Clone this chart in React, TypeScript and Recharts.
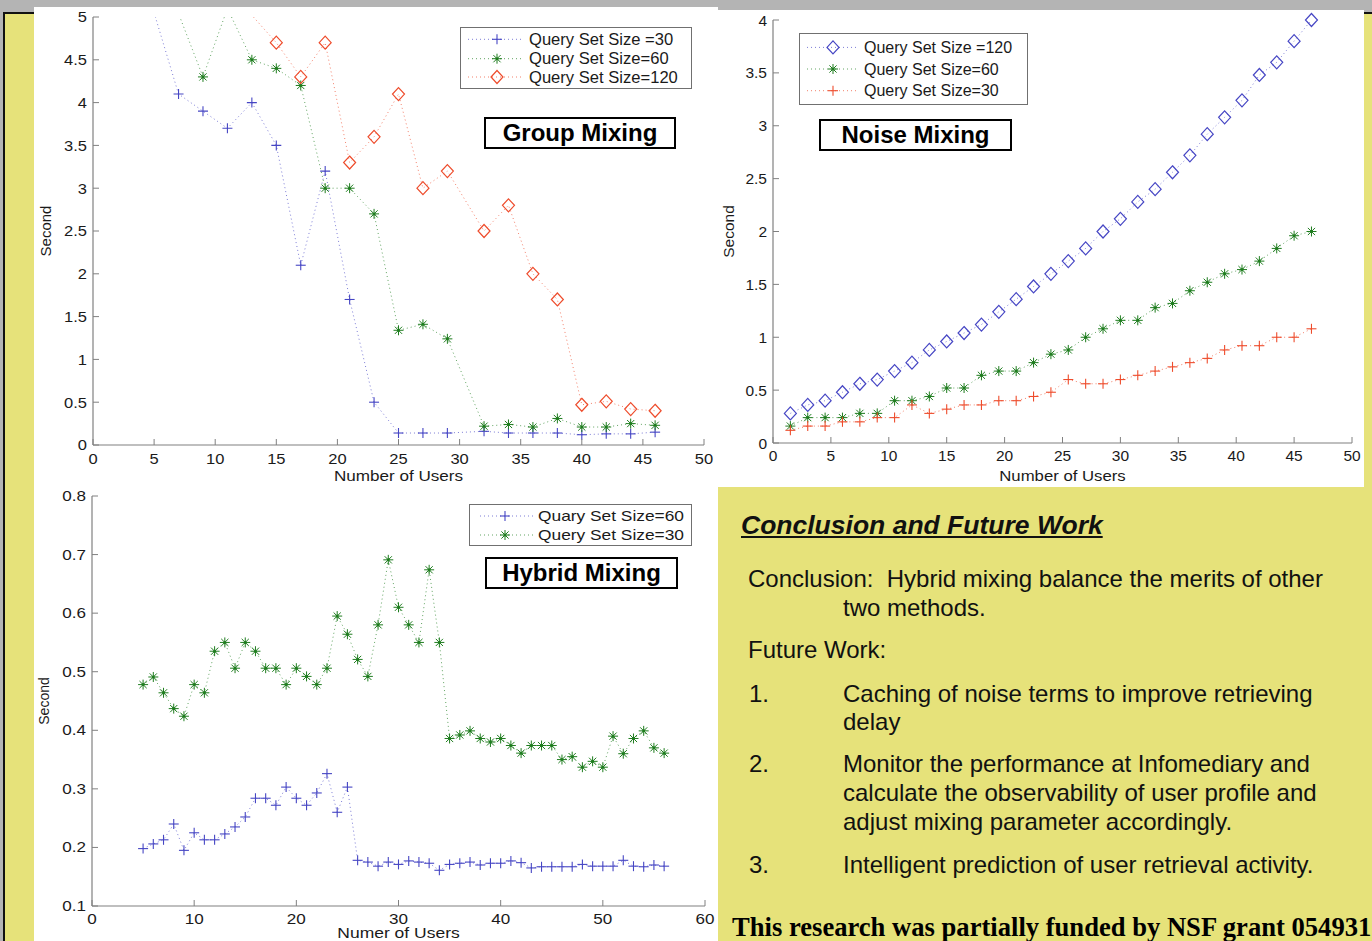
import React from "react";
import { LineChart, Line, XAxis, YAxis, Legend } from "recharts";

const FONT = '"Liberation Sans", Arial, Helvetica, sans-serif';
const SERIF = '"Liberation Serif", "Times New Roman", serif';
const YELLOW = "#e6e27a";
const FRAME = "#808080";
const INK = "#1a1a1a";
const BLUE = "#4646c4";
const GREEN = "#1f7d1f";
const RED = "#ee4c2c";
const TICK_LEN = 6;

// Group Mixing
const groupUsers = [5, 7, 9, 11, 13, 15, 17, 19, 21, 23, 25, 27, 29, 32, 34, 36, 38, 40, 42, 44, 46];
const groupSize30 = [5.05, 4.1, 3.9, 3.7, 4.0, 3.5, 2.1, 3.2, 1.7, 0.5, 0.14, 0.14, 0.14, 0.16, 0.14, 0.14, 0.14, 0.12, 0.13, 0.13, 0.15];
const groupSize60 = [5.6, 5.04, 4.3, 5.1, 4.5, 4.4, 4.2, 3.0, 3.0, 2.7, 1.34, 1.41, 1.24, 0.22, 0.24, 0.21, 0.31, 0.21, 0.21, 0.25, 0.23];
const groupSize120 = [6.4, 6.0, 5.6, 5.3, 5.02, 4.7, 4.3, 4.7, 3.3, 3.6, 4.1, 3.0, 3.2, 2.5, 2.8, 2.0, 1.7, 0.47, 0.51, 0.42, 0.4];
const groupXTicks = [0, 5, 10, 15, 20, 25, 30, 35, 40, 45, 50];
const groupYTicks = [0, 0.5, 1, 1.5, 2, 2.5, 3, 3.5, 4, 4.5, 5];

// Noise Mixing
const noiseUsers = [1.5, 3, 4.5, 6, 7.5, 9, 10.5, 12, 13.5, 15, 16.5, 18, 19.5, 21, 22.5, 24, 25.5, 27, 28.5, 30, 31.5, 33, 34.5, 36, 37.5, 39, 40.5, 42, 43.5, 45, 46.5];
const noiseSize120 = [0.28, 0.36, 0.4, 0.48, 0.56, 0.6, 0.68, 0.76, 0.88, 0.96, 1.04, 1.12, 1.24, 1.36, 1.48, 1.6, 1.72, 1.84, 2.0, 2.12, 2.28, 2.4, 2.56, 2.72, 2.92, 3.08, 3.24, 3.48, 3.6, 3.8, 4.0];
const noiseSize60 = [0.16, 0.24, 0.24, 0.24, 0.28, 0.28, 0.4, 0.4, 0.44, 0.52, 0.52, 0.64, 0.68, 0.68, 0.76, 0.84, 0.88, 1.0, 1.08, 1.16, 1.16, 1.28, 1.32, 1.44, 1.52, 1.6, 1.64, 1.72, 1.84, 1.96, 2.0];
const noiseSize30 = [0.12, 0.16, 0.16, 0.2, 0.2, 0.24, 0.24, 0.36, 0.28, 0.32, 0.36, 0.36, 0.4, 0.4, 0.44, 0.48, 0.6, 0.56, 0.56, 0.6, 0.64, 0.68, 0.72, 0.76, 0.8, 0.88, 0.92, 0.92, 1.0, 1.0, 1.08];
const noiseXTicks = [0, 5, 10, 15, 20, 25, 30, 35, 40, 45, 50];
const noiseYTicks = [0, 0.5, 1, 1.5, 2, 2.5, 3, 3.5, 4];

// Hybrid Mixing
const hybridUsers = [5, 6, 7, 8, 9, 10, 11, 12, 13, 14, 15, 16, 17, 18, 19, 20, 21, 22, 23, 24, 25, 26, 27, 28, 29, 30, 31, 32, 33, 34, 35, 36, 37, 38, 39, 40, 41, 42, 43, 44, 45, 46, 47, 48, 49, 50, 51, 52, 53, 54, 55, 56];
const hybridSize60 = [0.198, 0.206, 0.213, 0.24, 0.195, 0.225, 0.213, 0.213, 0.223, 0.235, 0.252, 0.284, 0.284, 0.272, 0.303, 0.284, 0.272, 0.293, 0.326, 0.26, 0.303, 0.178, 0.175, 0.168, 0.175, 0.171, 0.177, 0.175, 0.173, 0.161, 0.171, 0.173, 0.175, 0.17, 0.173, 0.173, 0.177, 0.174, 0.165, 0.167, 0.167, 0.167, 0.167, 0.171, 0.168, 0.168, 0.168, 0.178, 0.168, 0.167, 0.17, 0.168];
const hybridSize30 = [0.478, 0.491, 0.464, 0.437, 0.424, 0.478, 0.464, 0.535, 0.55, 0.506, 0.55, 0.535, 0.506, 0.506, 0.478, 0.506, 0.492, 0.478, 0.506, 0.595, 0.564, 0.521, 0.492, 0.58, 0.691, 0.61, 0.58, 0.55, 0.674, 0.55, 0.386, 0.392, 0.399, 0.386, 0.38, 0.386, 0.374, 0.361, 0.374, 0.374, 0.374, 0.35, 0.355, 0.337, 0.347, 0.337, 0.39, 0.36, 0.386, 0.399, 0.37, 0.361];
const hybridXTicks = [0, 10, 20, 30, 40, 50, 60];
const hybridYTicks = [0.1, 0.2, 0.3, 0.4, 0.5, 0.6, 0.7, 0.8];

type MarkerKind = "plus" | "star" | "diamond";
type Series = { key: string; name: string; kind: MarkerKind; color: string };

function Marker({ kind, cx, cy, color }: { kind: MarkerKind; cx: number; cy: number; color: string }) {
  if (kind === "plus") {
    return (
      <g stroke={color} strokeWidth={1.1} fill="none">
        <line x1={cx - 5} y1={cy} x2={cx + 5} y2={cy} />
        <line x1={cx} y1={cy - 5} x2={cx} y2={cy + 5} />
      </g>
    );
  }
  if (kind === "star") {
    const d = 3.6;
    return (
      <g stroke={color} strokeWidth={1} fill="none">
        <line x1={cx - 5} y1={cy} x2={cx + 5} y2={cy} />
        <line x1={cx} y1={cy - 5} x2={cx} y2={cy + 5} />
        <line x1={cx - d} y1={cy - d} x2={cx + d} y2={cy + d} />
        <line x1={cx - d} y1={cy + d} x2={cx + d} y2={cy - d} />
        <circle cx={cx} cy={cy} r={1.5} fill={color} stroke="none" />
      </g>
    );
  }
  return (
    <polygon
      points={`${cx},${cy - 6.5} ${cx + 6},${cy} ${cx},${cy + 6.5} ${cx - 6},${cy}`}
      fill="none"
      stroke={color}
      strokeWidth={1.2}
    />
  );
}

// markers above the axis limit are not drawn, like matlab does
const dotRenderer = (kind: MarkerKind, color: string, yMax?: number) => (props: any) => {
  const { cx, cy, value, index } = props;
  if (cx == null || cy == null || (yMax !== undefined && value > yMax)) return <g key={`d${index}`} />;
  return <Marker key={`d${index}`} kind={kind} cx={cx} cy={cy} color={color} />;
};

function StretchText({ x, y, sx, size, anchor, dy, children }: any) {
  return (
    <text
      transform={`translate(${x},${y}) scale(${sx},1)`}
      textAnchor={anchor}
      dy={dy}
      fontSize={size}
      fontFamily={FONT}
      fill={INK}
    >
      {children}
    </text>
  );
}

type LegendCfg = {
  left: number; top: number; width: number; height: number;
  rows: number[]; markerX: number; lineX1: number; lineX2: number; textX: number;
  fontSize: number; sx: number;
};

function LegendBox({ cfg, series }: { cfg: LegendCfg; series: Series[] }) {
  return (
    <div style={{ position: "relative", width: cfg.width, height: cfg.height, border: "1.5px solid #707070", background: "#fff", boxSizing: "border-box" }}>
      <svg width={cfg.width} height={cfg.height} style={{ position: "absolute", left: -1.5, top: -1.5 }}>
        {series.map((s, i) => (
          <g key={s.key}>
            <line x1={cfg.lineX1} x2={cfg.lineX2} y1={cfg.rows[i]} y2={cfg.rows[i]} stroke={s.color} strokeWidth={1} strokeDasharray="1 3" strokeOpacity={0.7} />
            <Marker kind={s.kind} cx={cfg.markerX} cy={cfg.rows[i]} color={s.color} />
            <StretchText x={cfg.textX} y={cfg.rows[i]} sx={cfg.sx} size={cfg.fontSize} anchor="start" dy="0.36em">
              {s.name}
            </StretchText>
          </g>
        ))}
      </svg>
    </div>
  );
}

type PlotProps = {
  left: number; top: number; width: number; height: number;
  yAxisWidth: number; xAxisHeight: number; marginTop: number; marginRight: number;
  data: any[]; series: Series[];
  xDomain: [number, number]; yDomain: [number, number]; xTicks: number[]; yTicks: number[];
  clipY?: boolean;
  fontSize: number; sx: number; labelSx: number; xTickGap: number; yTickGap: number;
  xLabel: string; xLabelDy: number; yLabel: string; yLabelDx: number;
  legend: LegendCfg;
};

function MatlabPlot(p: PlotProps) {
  const yMax = p.clipY ? p.yDomain[1] : undefined;

  const bottomTick = (t: any) => (
    <g>
      <line x1={t.x} x2={t.x} y1={t.y - p.xTickGap} y2={t.y - p.xTickGap - TICK_LEN} stroke={FRAME} />
      <StretchText x={t.x} y={t.y} sx={p.sx} size={p.fontSize} anchor="middle" dy="0.71em">
        {String(t.payload.value)}
      </StretchText>
    </g>
  );
  const topTick = (t: any) => <line x1={t.x} x2={t.x} y1={t.y} y2={t.y + TICK_LEN} stroke={FRAME} />;
  const leftTick = (t: any) => (
    <g>
      <line x1={t.x + p.yTickGap} x2={t.x + p.yTickGap + TICK_LEN} y1={t.y} y2={t.y} stroke={FRAME} />
      <StretchText x={t.x} y={t.y} sx={p.sx} size={p.fontSize} anchor="end" dy="0.36em">
        {String(t.payload.value)}
      </StretchText>
    </g>
  );
  const rightTick = (t: any) => <line x1={t.x - TICK_LEN} x2={t.x} y1={t.y} y2={t.y} stroke={FRAME} />;

  const xLabel = (lp: any) => {
    const vb = lp.viewBox ?? { x: 0, y: 0, width: 0, height: 0 };
    return (
      <StretchText x={vb.x + vb.width / 2} y={vb.y + p.xLabelDy} sx={p.labelSx} size={p.fontSize} anchor="middle" dy="0.36em">
        {p.xLabel}
      </StretchText>
    );
  };
  const yLabel = (lp: any) => {
    const vb = lp.viewBox ?? { x: 0, y: 0, width: 0, height: 0 };
    const cx = vb.x + p.yLabelDx;
    const cy = vb.y + vb.height / 2;
    return (
      <text transform={`translate(${cx},${cy}) rotate(-90)`} textAnchor="middle" dy="0.36em" fontSize={p.fontSize} fontFamily={FONT} fill={INK}>
        {p.yLabel}
      </text>
    );
  };

  return (
    <div style={{ position: "absolute", left: p.left, top: p.top }}>
      <LineChart
        width={p.width}
        height={p.height}
        data={p.data}
        margin={{ top: p.marginTop, right: p.marginRight, bottom: 0, left: 0 }}
      >
        <XAxis
          xAxisId="b"
          dataKey="users"
          type="number"
          domain={p.xDomain}
          ticks={p.xTicks}
          interval={0}
          height={p.xAxisHeight}
          tickSize={0}
          tickMargin={p.xTickGap}
          tickLine={false}
          tick={bottomTick}
          axisLine={{ stroke: FRAME, strokeWidth: 1.2 }}
          label={xLabel}
        />
        <XAxis
          xAxisId="t"
          orientation="top"
          dataKey="users"
          type="number"
          domain={p.xDomain}
          ticks={p.xTicks}
          interval={0}
          height={0}
          tickSize={0}
          tickMargin={0}
          tickLine={false}
          tick={topTick}
          allowDataOverflow
          axisLine={{ stroke: FRAME, strokeWidth: 1.2 }}
        />
        <YAxis
          yAxisId="l"
          type="number"
          domain={p.yDomain}
          ticks={p.yTicks}
          interval={0}
          width={p.yAxisWidth}
          tickSize={0}
          tickMargin={p.yTickGap}
          tickLine={false}
          tick={leftTick}
          allowDataOverflow={!!p.clipY}
          axisLine={{ stroke: FRAME, strokeWidth: 1.2 }}
          label={yLabel}
        />
        <YAxis
          yAxisId="r"
          orientation="right"
          type="number"
          domain={p.yDomain}
          ticks={p.yTicks}
          interval={0}
          width={0}
          tickSize={0}
          tickMargin={0}
          tickLine={false}
          tick={rightTick}
          allowDataOverflow
          axisLine={{ stroke: FRAME, strokeWidth: 1.2 }}
        />
        {p.series.map((s) => (
          <Line
            key={s.key}
            xAxisId="b"
            yAxisId="l"
            dataKey={s.key}
            name={s.name}
            stroke={s.color}
            strokeWidth={1}
            strokeOpacity={0.7}
            strokeDasharray="1 3"
            dot={dotRenderer(s.kind, s.color, yMax)}
            activeDot={false}
            isAnimationActive={false}
          />
        ))}
        <Legend
          layout="vertical"
          align="center"
          verticalAlign="middle"
          content={() => <LegendBox cfg={p.legend} series={p.series} />}
          wrapperStyle={{ position: "absolute", left: p.legend.left, top: p.legend.top, width: p.legend.width, height: p.legend.height }}
        />
      </LineChart>
    </div>
  );
}

const groupRows = groupUsers.map((users, i) => ({ users, s30: groupSize30[i], s60: groupSize60[i], s120: groupSize120[i] }));
const noiseRows = noiseUsers.map((users, i) => ({ users, s120: noiseSize120[i], s60: noiseSize60[i], s30: noiseSize30[i] }));
const hybridRows = hybridUsers.map((users, i) => ({ users, s60: hybridSize60[i], s30: hybridSize30[i] }));

const groupPlot: PlotProps = {
  left: 34, top: 7, width: 684, height: 478,
  yAxisWidth: 59, xAxisHeight: 40, marginTop: 10, marginRight: 14,
  data: groupRows,
  series: [
    { key: "s30", name: "Query Set Size =30", kind: "plus", color: BLUE },
    { key: "s60", name: "Query Set Size=60", kind: "star", color: GREEN },
    { key: "s120", name: "Query Set Size=120", kind: "diamond", color: RED },
  ],
  xDomain: [0, 50], yDomain: [0, 5], xTicks: groupXTicks, yTicks: groupYTicks,
  clipY: true,
  fontSize: 15, sx: 1.1, labelSx: 1.14, xTickGap: 8, yTickGap: 6,
  xLabel: "Number of Users", xLabelDy: 31, yLabel: "Second", yLabelDx: 12,
  legend: { left: 426, top: 20, width: 232, height: 62, rows: [12.3, 31.7, 50], markerX: 37, lineX1: 8, lineX2: 62, textX: 69, fontSize: 15.8, sx: 1.05 },
};

const noisePlot: PlotProps = {
  left: 718, top: 10, width: 646, height: 477,
  yAxisWidth: 55, xAxisHeight: 44, marginTop: 10, marginRight: 12,
  data: noiseRows,
  series: [
    { key: "s120", name: "Query Set Size =120", kind: "diamond", color: BLUE },
    { key: "s60", name: "Query Set Size=60", kind: "star", color: GREEN },
    { key: "s30", name: "Query Set Size=30", kind: "plus", color: RED },
  ],
  xDomain: [0, 50], yDomain: [0, 4], xTicks: noiseXTicks, yTicks: noiseYTicks,
  fontSize: 15.5, sx: 1.0, labelSx: 1.08, xTickGap: 7, yTickGap: 6,
  xLabel: "Number of Users", xLabelDy: 32, yLabel: "Second", yLabelDx: 10,
  legend: { left: 80.5, top: 23.3, width: 229, height: 72, rows: [14.4, 36, 57.7], markerX: 35, lineX1: 9, lineX2: 59, textX: 66, fontSize: 16, sx: 1.0 },
};

const hybridPlot: PlotProps = {
  left: 34, top: 485, width: 684, height: 456,
  yAxisWidth: 58, xAxisHeight: 35, marginTop: 11, marginRight: 13,
  data: hybridRows,
  series: [
    { key: "s60", name: "Quary Set Size=60", kind: "plus", color: BLUE },
    { key: "s30", name: "Query Set Size=30", kind: "star", color: GREEN },
  ],
  xDomain: [0, 60], yDomain: [0.1, 0.8], xTicks: hybridXTicks, yTicks: hybridYTicks,
  fontSize: 14, sx: 1.22, labelSx: 1.25, xTickGap: 8, yTickGap: 6,
  xLabel: "Numer of Users", xLabelDy: 27, yLabel: "Second", yLabelDx: 10,
  legend: { left: 435, top: 19, width: 223, height: 42, rows: [12, 31], markerX: 36, lineX1: 11, lineX2: 64, textX: 69, fontSize: 14, sx: 1.24 },
};

function TitleBox({ left, top, width, height, text }: { left: number; top: number; width: number; height: number; text: string }) {
  return (
    <div
      style={{
        position: "absolute", left, top, width, height, boxSizing: "border-box",
        border: "2px solid #000", background: "#fff",
        display: "flex", alignItems: "center", justifyContent: "center",
        fontFamily: FONT, fontWeight: 700, fontSize: 24, lineHeight: "24px", color: "#000",
      }}
    >
      {text}
    </div>
  );
}

function TextRow({ x, baseline, size, serif, style, children }: any) {
  const k = serif ? 0.8375 : 0.8465;
  return (
    <div
      style={{
        position: "absolute", left: x, top: baseline - k * size,
        fontSize: size, lineHeight: `${size}px`, whiteSpace: "pre",
        fontFamily: serif ? SERIF : FONT, color: "#111", ...style,
      }}
    >
      {children}
    </div>
  );
}

export default function App() {
  return (
    <div style={{ position: "absolute", left: 0, top: 0, width: 1372, height: 941, overflow: "hidden", background: "#b4b4b4", fontFamily: FONT }}>
      <div style={{ position: "absolute", left: 3, top: 12, right: 0, bottom: 0, background: "#111" }} />
      <div style={{ position: "absolute", left: 5, top: 14, right: 0, bottom: 0, background: YELLOW }} />
      <div style={{ position: "absolute", left: 34, top: 7, width: 684, height: 934, background: "#fff" }} />
      <div style={{ position: "absolute", left: 718, top: 10, width: 646, height: 477, background: "#fff" }} />

      <MatlabPlot {...groupPlot} />
      <MatlabPlot {...noisePlot} />
      <MatlabPlot {...hybridPlot} />

      <TitleBox left={484} top={117} width={192} height={32} text="Group Mixing" />
      <TitleBox left={819} top={119} width={193} height={32} text="Noise Mixing" />
      <TitleBox left={485} top={557} width={193} height={32} text="Hybrid Mixing" />

      <TextRow x={741} baseline={534} size={26.5} style={{ fontWeight: 700, fontStyle: "italic", textDecoration: "underline" }}>
        Conclusion and Future Work
      </TextRow>
      <TextRow x={748} baseline={587} size={24}>Conclusion:  Hybrid mixing balance the merits of other</TextRow>
      <TextRow x={843} baseline={616} size={24}>two methods.</TextRow>
      <TextRow x={748} baseline={658} size={24}>Future Work:</TextRow>
      <TextRow x={749} baseline={702} size={24}>1.</TextRow>
      <TextRow x={843} baseline={702} size={24}>Caching of noise terms to improve retrieving</TextRow>
      <TextRow x={843} baseline={730} size={24}>delay</TextRow>
      <TextRow x={749} baseline={772} size={24}>2.</TextRow>
      <TextRow x={843} baseline={772} size={24}>Monitor the performance at Infomediary and</TextRow>
      <TextRow x={843} baseline={801.5} size={24}>calculate the observability of user profile and</TextRow>
      <TextRow x={843} baseline={830} size={24}>adjust mixing parameter accordingly.</TextRow>
      <TextRow x={749} baseline={873} size={24}>3.</TextRow>
      <TextRow x={843} baseline={873} size={24}>Intelligent prediction of user retrieval activity.</TextRow>
      <TextRow x={732} baseline={936} size={26.6} serif style={{ fontWeight: 700, color: "#000" }}>
        This research was partially funded by NSF grant 054931
      </TextRow>
    </div>
  );
}
